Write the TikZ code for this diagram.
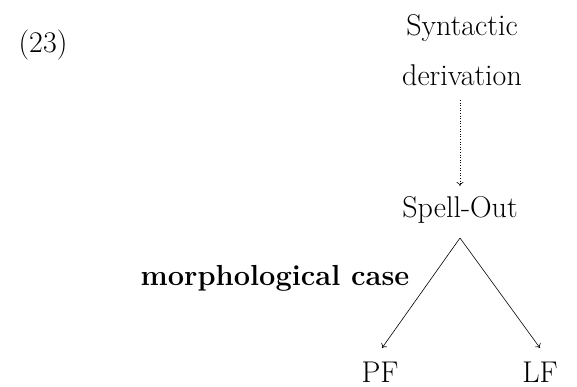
\documentclass[tikz,border=0pt]{standalone}
\usetikzlibrary{arrows.meta}
\begin{document}
\begin{tikzpicture}[x=1pt,y=1pt,
  lbl/.style={inner sep=0pt,font=\fontsize{30}{34}\selectfont},
  conn/.style={-{To[length=4pt,width=7pt]},line width=0.6pt}]
\useasboundingbox (0,0) rectangle (577,387);
\node[lbl] (num) at (43,342) {(23)};
\node[lbl] (syn) at (462,359) {Syntactic};
\node[lbl] (der) at (462,312) {derivation};
\node[lbl] (spell) at (460,177) {Spell-Out};
\coordinate (apex) at (460,149);
\node[lbl] (pf) at (380,15) {PF};
\node[lbl] (lf) at (540,15) {LF};
\node[lbl,font=\fontsize{29}{33}\selectfont\bfseries] (morph) at (275,109) {morphological case};
\draw[conn,dotted] (460,287) -- (460,201);
\draw[conn] (apex) -- (382,39);
\draw[conn] (apex) -- (540,39);
\end{tikzpicture}
\end{document}
